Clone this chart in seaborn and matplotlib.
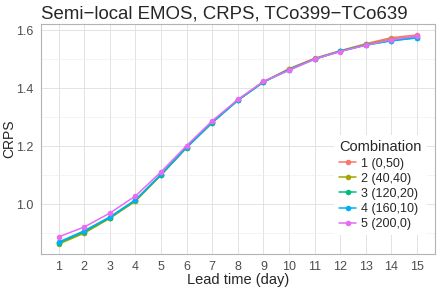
import numpy as np
import pandas as pd
import matplotlib
matplotlib.use("Agg")
import matplotlib.pyplot as plt
import seaborn as sns

lead_days = list(range(1, 16))
labels = ["1 (0,50)", "2 (40,40)", "3 (120,20)", "4 (160,10)", "5 (200,0)"]
crps_1 = [0.866, 0.902, 0.953, 1.012, 1.102, 1.197, 1.282, 1.359, 1.422, 1.467, 1.503, 1.529, 1.553, 1.574, 1.583]
crps_2 = [0.862, 0.900, 0.951, 1.010, 1.100, 1.195, 1.281, 1.358, 1.421, 1.465, 1.501, 1.528, 1.551, 1.569, 1.578]
crps_3 = [0.866, 0.905, 0.953, 1.013, 1.101, 1.195, 1.281, 1.358, 1.421, 1.464, 1.500, 1.527, 1.549, 1.564, 1.574]
crps_4 = [0.869, 0.908, 0.956, 1.015, 1.103, 1.196, 1.282, 1.358, 1.421, 1.463, 1.500, 1.527, 1.548, 1.563, 1.573]
crps_5 = [0.887, 0.921, 0.969, 1.028, 1.111, 1.202, 1.287, 1.361, 1.423, 1.461, 1.500, 1.526, 1.548, 1.567, 1.579]
palette = ["#F8766D", "#A3A500", "#00BF7D", "#00B0F6", "#E76BF3"]

series = [crps_1, crps_2, crps_3, crps_4, crps_5]
rows = []
for lab, vals in zip(labels, series):
    for d, v in zip(lead_days, vals):
        rows.append({"Lead time (day)": d, "CRPS": v, "Combination": lab})
df = pd.DataFrame(rows)

sns.set_style("white")
plt.rcParams['font.family'] = ['Liberation Sans', 'DejaVu Sans']

fig = plt.figure(figsize=(4.41, 2.89), dpi=100)
ax = fig.add_axes([40.7/441, 1-254/289, (435-40.7)/441, (254-24)/289])

sns.lineplot(data=df, x="Lead time (day)", y="CRPS", hue="Combination",
             palette=palette, marker="o", markersize=4, markeredgewidth=0,
             linewidth=1.1, ax=ax, legend=True, zorder=3)

ax.set_xlim(0.3, 15.7)
ax.set_ylim(0.828, 1.621)
ax.set_xticks(lead_days)
ax.set_yticks([1.0, 1.2, 1.4, 1.6])
ax.set_yticklabels(["1.0", "1.2", "1.4", "1.6"])
ax.set_yticks([0.9, 1.1, 1.3, 1.5], minor=True)
ax.grid(True, which="major", color="#DEDEDE", linewidth=0.6, zorder=0)
ax.grid(True, which="minor", axis="y", color="#EDEDED", linewidth=0.4, zorder=0)
ax.set_axisbelow(True)
for s in ax.spines.values():
    s.set_color("#B3B3B3")
    s.set_linewidth(0.8)
ax.tick_params(axis="both", which="major", length=3, color="#B3B3B3", labelsize=9,
               labelcolor="#4D4D4D", pad=2)
ax.tick_params(axis="both", which="minor", length=0)
ax.set_xlabel("Lead time (day)", fontsize=10.5, labelpad=0)
ax.set_ylabel("CRPS", fontsize=10, labelpad=0)
ax.set_title("Semi\u2212local EMOS, CRPS, TCo399\u2212TCo639", fontsize=13.4, pad=4, loc="left")

leg = ax.legend(title="Combination", loc="lower right", bbox_to_anchor=(0.995, 0.055),
                frameon=True, fontsize=9, title_fontsize=10.5, handlelength=1.3,
                handletextpad=0.4, labelspacing=0.25, borderpad=0.4)
leg.get_frame().set_edgecolor("none")
leg.get_frame().set_facecolor("white")
leg.get_frame().set_alpha(1)
leg._legend_box.align = "left"

fig.savefig("out.png", dpi=100)
